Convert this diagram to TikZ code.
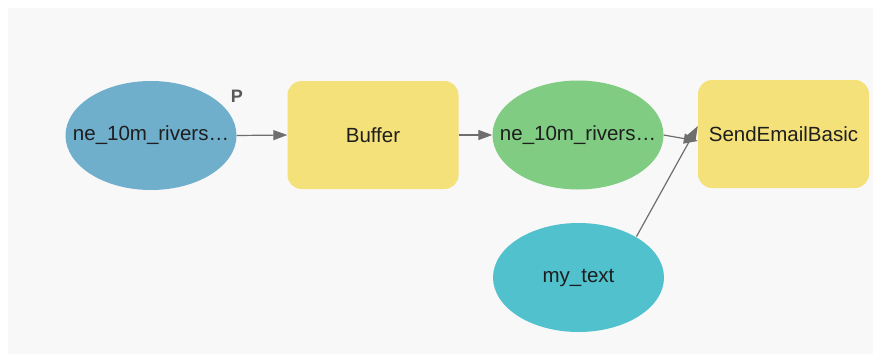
\documentclass[tikz,border=0pt]{standalone}
\usepackage{fontspec}
\setmainfont{Liberation Sans}
\usetikzlibrary{shapes.geometric,arrows.meta}
\definecolor{bgc}{HTML}{F8F8F8}
\definecolor{bluec}{HTML}{6FAFCC}
\definecolor{greenc}{HTML}{80CC82}
\definecolor{yellowc}{HTML}{F5E17A}
\definecolor{cyanc}{HTML}{50C1CD}
\definecolor{arrc}{HTML}{6E6E6E}
\definecolor{txtc}{HTML}{1E1E1E}
\newcommand{\fixw}[1]{\makebox[0pt]{#1}}
\tikzset{
  x=1pt,y=-1pt,
  every node/.style={font=\fontsize{20.5}{24}\selectfont, text=txtc, inner sep=0pt},
  ell/.style={ellipse, minimum width=171pt, minimum height=109pt, draw=none},
  tool/.style={rectangle, rounded corners=14pt, minimum width=171pt, minimum height=108pt, fill=yellowc, draw=none},
  conn/.style={draw=arrc, line width=1.2pt, -{Triangle[length=14pt,width=10pt]}}
}
\begin{document}
\begin{tikzpicture}
\useasboundingbox (0,0) rectangle (873,354);
\fill[white] (0,0) rectangle (873,354);
\fill[bgc] (8,8) rectangle (873,354);
\node[ell, fill=bluec] (in) at (151,135.5) {\fixw{ne\_10m\_rivers\ldots}};
\node[font=\bfseries\fontsize{18}{20}\selectfont, text=arrc!80!black] (p) at (237,96) {P};
\node[tool] (buf) at (373,135) {\fixw{Buffer}};
\node[ell, fill=greenc] (out) at (578,135) {\fixw{ne\_10m\_rivers\ldots}};
\node[tool] (send) at (783.5,134) {\fixw{SendEmailBasic}};
\node[ell, fill=cyanc] (txt) at (578.5,277.5) {\fixw{my\_text}};
\coordinate (tstart) at ([shift={(58,-41)}]txt.center);
\draw[conn] (in.east) -- (buf.west);
\draw[conn] (buf.east) -- (out.west);
\draw[conn] (out.east) -- ([yshift=-7pt]send.west);
\draw[conn] (tstart) -- ([yshift=8pt]send.west);
\end{tikzpicture}
\end{document}
